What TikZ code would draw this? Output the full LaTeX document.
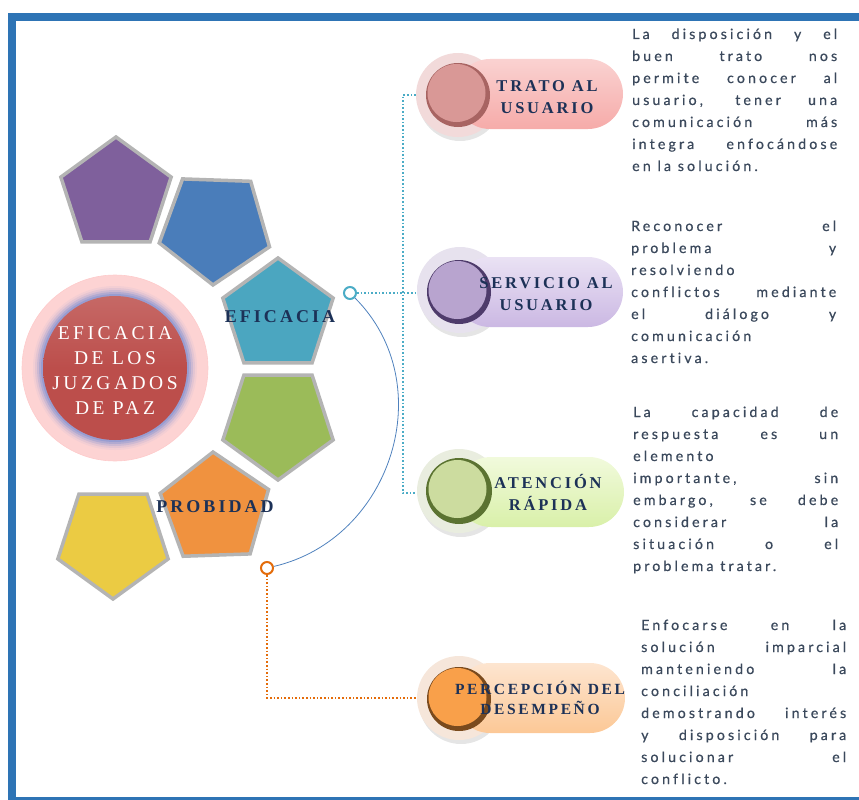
\documentclass[tikz,border=0pt]{standalone}
\usepackage{fontspec}
\usetikzlibrary{shapes.geometric,calc}
\setmainfont{Liberation Serif}
\newfontfamily\descfont[LetterSpace=22, Ligatures=NoCommon, FakeBold=0.6]{Lato}
\newfontfamily\labfont[LetterSpace=17]{Liberation Serif}
\newfontfamily\titfont[LetterSpace=18]{Liberation Serif}
\definecolor{frameblue}{HTML}{2E74B5}
\definecolor{ppurple}{HTML}{7F609C}
\definecolor{pblue}{HTML}{4A7DBA}
\definecolor{pteal}{HTML}{4BA6C0}
\definecolor{pgreen}{HTML}{9BBB59}
\definecolor{porange}{HTML}{F0923F}
\definecolor{pyellow}{HTML}{EBCB43}
\definecolor{pentedge}{HTML}{B4B4B4}
\definecolor{navy}{HTML}{1C3157}
\definecolor{desctext}{HTML}{3B495C}
\definecolor{bighalo}{HTML}{FDD3D3}
\definecolor{bigred}{HTML}{BC4E4B}
\definecolor{bigglow}{HTML}{7F8FD0}
\definecolor{tealline}{HTML}{4BACC6}
\definecolor{orangeline}{HTML}{E46C0A}
\definecolor{arcblue}{HTML}{4F81BD}
% bubbles
\definecolor{hpink}{HTML}{F2DADA}
\definecolor{pinkT}{HTML}{FAD2D1}
\definecolor{pinkB}{HTML}{F6ABA9}
\definecolor{pinkK}{HTML}{D99896}
\definecolor{pinkR}{HTML}{A86462}
\definecolor{hpurp}{HTML}{E7E2EE}
\definecolor{purpT}{HTML}{EAE2F4}
\definecolor{purpB}{HTML}{CBB8E3}
\definecolor{purpK}{HTML}{B8A4CF}
\definecolor{purpR}{HTML}{4E3B6B}
\definecolor{hgreen}{HTML}{E9EDDF}
\definecolor{greenT}{HTML}{F1FADC}
\definecolor{greenB}{HTML}{D9F0A9}
\definecolor{greenK}{HTML}{CCDC9F}
\definecolor{greenR}{HTML}{5B7331}
\definecolor{horange}{HTML}{F6E6DA}
\definecolor{orangeT}{HTML}{FDE5D0}
\definecolor{orangeB}{HTML}{FCC896}
\definecolor{orangeK}{HTML}{F9A04A}
\definecolor{orangeR}{HTML}{7A4A1D}
\newlength\descw
\setlength\descw{205pt}
\newcommand\jl[1]{\makebox[\descw][s]{#1}}
\begin{document}
\begin{tikzpicture}[x=1pt,y=-1pt,
  pent/.style={regular polygon, regular polygon sides=5, minimum size=116pt, inner sep=0pt, draw=pentedge, line width=3.5pt},
  plab/.style={font=\labfont\bfseries\fontsize{18}{20}\selectfont, text=navy, inner sep=0pt},
  blab/.style={font=\labfont\bfseries\fontsize{16.5}{22}\selectfont, text=navy, align=center, inner sep=0pt},
  halo/.style={circle, minimum size=84pt, inner sep=0pt},
  pill/.style={rectangle, rounded corners=35pt, minimum height=70pt, minimum width=168pt, inner sep=0pt},
  knob/.style 2 args={circle, minimum size=64pt, inner sep=0pt, fill=#2,
    path picture={\fill[#1] ([xshift=-1.5pt,yshift=2pt]path picture bounding box.center) circle[radius=29pt];}},
  hshadow/.style={fill=black, opacity=0.10},
  desc/.style={font=\descfont\fontsize{14.2}{22}\selectfont, text=desctext, inner sep=0pt},
  tline/.style={draw=tealline, dotted, line width=1.6pt},
  oline/.style={draw=orangeline, dotted, line width=1.6pt},
  dotc/.style={circle, minimum size=12pt, inner sep=0pt, fill=white, line width=2pt}
]
\useasboundingbox (0,0) rectangle (859,800);
\begin{scope}
\clip (0,0) rectangle (859,800);
\draw[frameblue, line width=8pt] (900,17) -- (12,17) -- (12,801) -- (900,801);
\end{scope}

% pentagons
\node[pent, fill=ppurple] (p1) at (116,195) {};
\node[pent, fill=pblue, shape border rotate=34] (p2) at (215,227) {};
\node[pent, fill=pteal] (p3) at (278,316) {};
\node[pent, fill=pgreen, shape border rotate=180] (p4) at (278,422) {};
\node[pent, fill=porange, minimum size=114pt, shape border rotate=2] (p5) at (215,509) {};
\node[pent, fill=pyellow, shape border rotate=180] (p6) at (113,541) {};
\node[plab] (l3) at (280,317) {EFICACIA};
\node[plab] (l5) at (215,507) {PROBIDAD};

% big circle
\node[circle, minimum size=186pt, inner sep=0pt, fill=bighalo, draw=bighalo!80!red!60, line width=0.6pt] (big) at (115,368) {};
\foreach \r/\c in {82/8,80/20,78/38,76/60,74/80}{
  \fill[bigglow!\c!bighalo] (big.center) circle[radius=\r pt];
}
\node[circle, minimum size=144pt, inner sep=0pt, top color=bigred!85!white, bottom color=bigred, middle color=bigred] (bigin) at (115,368) {};
\node[font=\titfont\fontsize{19.5}{25}\selectfont, text=white, align=center, inner sep=0pt] (bigt) at (115,371) {EFICACIA\\DE LOS\\JUZGADOS\\DE PAZ};

% TRATO AL USUARIO
\fill[hshadow] (460,99) circle[radius=42pt];
\node[halo, fill=hpink] (trato) at (458,95) {};
\node[pill, top color=pinkT, bottom color=pinkB] (trato-p) at (539,94) {};
\node[knob={pinkK}{pinkR}] (trato-k) at (458,95) {};
\node[blab] (trato-t) at (547,97) {TRATO AL\\USUARIO};

% SERVICIO AL USUARIO
\fill[hshadow] (462,294) circle[radius=43pt];
\node[halo, fill=hpurp, minimum size=86pt] (serv) at (460,290) {};
\node[pill, top color=purpT, bottom color=purpB] (serv-p) at (539,292) {};
\node[knob={purpK}{purpR}] (serv-k) at (459,292) {};
\node[blab] (serv-t) at (546,294) {SERVICIO AL\\USUARIO};

% ATENCION RAPIDA
\fill[hshadow] (461,495) circle[radius=42pt];
\node[halo, fill=hgreen] (aten) at (459,491) {};
\node[pill, top color=greenT, bottom color=greenB] (aten-p) at (540,492) {};
\node[knob={greenK}{greenR}, minimum size=66pt] (aten-k) at (459,491) {};
\node[blab] (aten-t) at (548,492) {ATENCIÓN\\RÁPIDA};

% PERCEPCION DEL DESEMPENO
\fill[hshadow] (461,702) circle[radius=42pt];
\node[halo, fill=horange] (perc) at (459,698) {};
\node[pill, top color=orangeT, bottom color=orangeB, minimum width=170pt] (perc-p) at (540,698) {};
\node[knob={orangeK}{orangeR}] (perc-k) at (459,699) {};
\node[blab, font=\labfont\bfseries\fontsize{15.5}{20}\selectfont] (perc-t) at (540,698) {PERCEPCIÓN DEL\\DESEMPEÑO};

% connectors
\node[dotc, draw=tealline] (tc) at (350,293) {};
\node[dotc, draw=orangeline] (oc) at (267,568) {};
\draw[arcblue, line width=0.8pt] (tc) .. controls +(91,91) and +(125,-29) .. (oc);
\coordinate (vj) at (403,493);
\draw[tline] (tc.east) -- (tc.east -| serv.west);
\draw[tline] (trato.west) -| (vj) -- (vj -| aten.west);
\draw[oline] (oc.south) |- (perc.west);

% descriptions
\node[desc, anchor=base west] (d1) at (632,39) {\parbox[t]{\descw}{%
\jl{La disposición y el}\\
\jl{buen trato nos}\\
\jl{permite conocer al}\\
\jl{usuario, tener una}\\
\jl{comunicación más}\\
\jl{integra enfocándose}\\
en la solución.}};
\node[desc, anchor=base west] (d2) at (631,231) {\parbox[t]{\descw}{%
\jl{Reconocer el}\\
\jl{problema y}\\
resolviendo\\
\jl{conflictos mediante}\\
\jl{el diálogo y}\\
comunicación\\
asertiva.}};
\node[desc, anchor=base west] (d3) at (633,417) {\parbox[t]{\descw}{%
\jl{La capacidad de}\\
\jl{respuesta es un}\\
elemento\\
\jl{importante, sin}\\
\jl{embargo, se debe}\\
\jl{considerar la}\\
\jl{situación o el}\\
problema tratar.}};
\node[desc, anchor=base west] (d4) at (641,630) {\parbox[t]{\descw}{%
\jl{Enfocarse en la}\\
\jl{solución imparcial}\\
\jl{manteniendo la}\\
conciliación\\
\jl{demostrando interés}\\
\jl{y disposición para}\\
\jl{solucionar el}\\
conflicto.}};
\end{tikzpicture}
\end{document}
